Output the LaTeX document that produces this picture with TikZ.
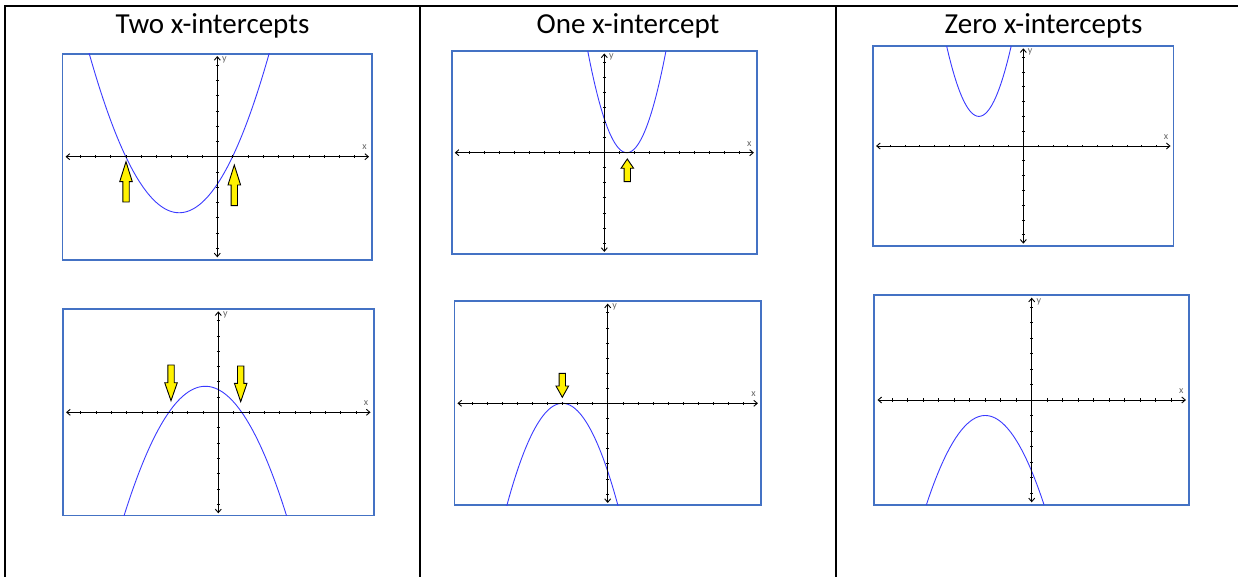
\documentclass[tikz,border=0pt]{standalone}
\usepackage{fontspec}
\setmainfont{Carlito}
\usepackage{xcolor}
\usepackage{tikz}
\usetikzlibrary{arrows.meta}
\definecolor{frameblue}{HTML}{4472C4}
\definecolor{curveblue}{HTML}{3A3AFF}
\definecolor{markyellow}{HTML}{FFF200}
\tikzset{
  cellrule/.style={black,line width=2pt},
  coltitle/.style={anchor=base,font=\fontsize{29}{31}\selectfont},
  graphframe/.style={frameblue,line width=1.8pt},
  axisline/.style={black,line width=0.9pt,{Straight Barb[length=3.5pt,width=6pt]}-{Straight Barb[length=3.5pt,width=6pt]}},
  parab/.style={curveblue,line width=0.9pt,smooth,samples=160},
  hilite/.style={draw=black,fill=markyellow,line width=0.9pt,line join=miter},
  axlabel/.style={gray!80!black,font=\fontsize{10}{10}\selectfont,inner sep=0pt}
}
% #1 name, #2/#3 origin (px), #4 px per unit, #5 curve
\newcommand{\qgraph}[5]{%
  \begin{scope}[shift={(#2,#3)},x=#4pt,y=#4pt]
    \draw[graphframe] (-10.15,-6.75) rectangle (10.15,6.75);
    \begin{scope}
      \clip (-10.15,-6.75) rectangle (10.15,6.75);
      \draw[parab,domain=-10.15:10.15] plot (\x,{#5});
    \end{scope}
    \foreach \t in {-9,...,-1,1,2,...,9}{\draw[line width=0.6pt] (\t,-0.1)--(\t,0.1);}
    \foreach \t in {-6,...,-1,1,2,...,6}{\draw[line width=0.6pt] (-0.1,\t)--(0.1,\t);}
    \draw[axisline] (-9.95,0) -- (9.95,0);
    \draw[axisline] (0,-6.6) -- (0,6.6);
    \node[axlabel,anchor=west] (#1y) at (0.3,6.35) {y};
    \node[axlabel] (#1x) at (9.65,0.6) {x};
  \end{scope}}
% #1 x, #2 tail, #3 neck, #4 tip (px)
\newcommand{\hlarrow}[4]{%
  \draw[hilite] (#1-3.2,#2) -- (#1-3.2,#3) -- (#1-6.3,#3) -- (#1,#4)
    -- (#1+6.3,#3) -- (#1+3.2,#3) -- (#1+3.2,#2) -- cycle;}

\begin{document}
\begin{tikzpicture}[x=1pt,y=-1pt]
  \useasboundingbox (0,0) rectangle (1238,577);
  % table
  \draw[cellrule,line join=miter] (4.5,577) -- (4.5,6) -- (1238,6);
  \draw[cellrule] (420,6) -- (420,577);
  \draw[cellrule] (836,6) -- (836,577);
  \node[coltitle] (two) at (212.5,34) {Two x-intercepts};
  \node[coltitle] (one) at (628,34) {One x-intercept};
  \node[coltitle] (zero) at (1043.5,34) {Zero x-intercepts};
  % two x-intercepts
  \qgraph{ga}{217.3}{156.7}{15.25}{0.3*(\x+6)*(\x-1)}
  \hlarrow{126}{202}{181.7}{161.7}
  \hlarrow{234.3}{205.7}{185}{165}
  \qgraph{gb}{218.3}{412.3}{15.3}{1.7-0.3*(\x+0.85)^2}
  \hlarrow{171}{365}{382.7}{400.7}
  \hlarrow{240.7}{366}{383.3}{401.7}
  % one x-intercept
  \qgraph{gc}{604.3}{152.7}{15.03}{(\x-1.5)^2}
  \hlarrow{627.3}{181.7}{168.3}{159}
  \qgraph{gd}{607.7}{403.3}{15.1}{-0.5*(\x+3)^2}
  \hlarrow{562.3}{373.3}{386}{397.3}
  % zero x-intercepts
  \qgraph{ge}{1023.3}{146}{14.8}{(\x+3)^2+2}
  \qgraph{gf}{1031.7}{400}{15.5}{-1-0.4*(\x+3)^2}
\end{tikzpicture}
\end{document}
